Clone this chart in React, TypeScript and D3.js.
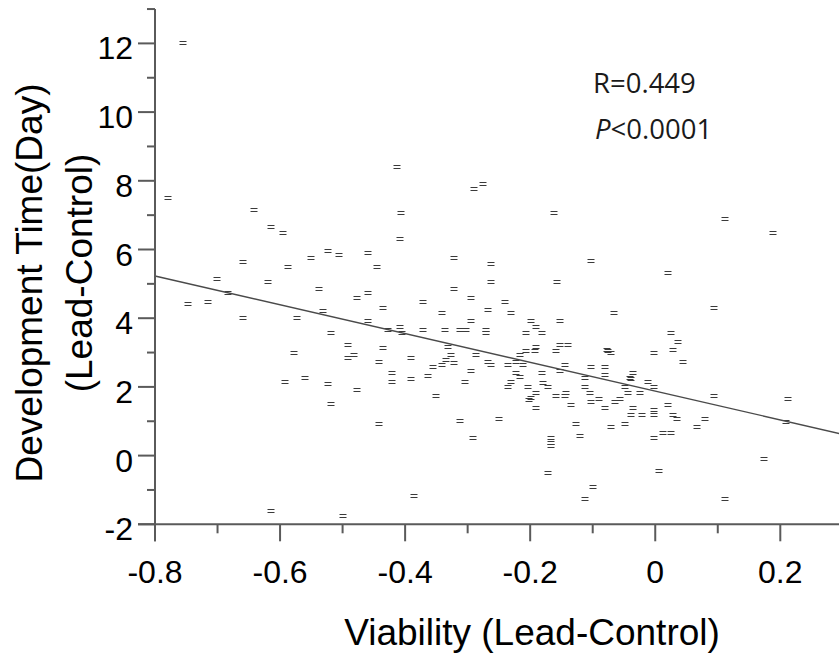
import React from "react";
import * as d3 from "d3";

// Viability (Lead-Control) values
const viability: number[] = [
  -0.756, -0.413, -0.779, -0.642, -0.615, -0.596, -0.523, -0.505, -0.46, -0.551,
  -0.66, -0.587, -0.445, -0.701, -0.619, -0.683, -0.537, -0.46, -0.477, -0.747,
  -0.716, -0.532, -0.436, -0.66, -0.573, -0.46, -0.519, -0.427, -0.408, -0.492,
  -0.436, -0.577, -0.491, -0.482, -0.442, -0.421, -0.56, -0.407, -0.408, -0.592,
  -0.523, -0.519, -0.477, -0.421, -0.442, -0.615, -0.5, -0.29, -0.276, -0.162,
  -0.322, -0.262, -0.102, 0.02, -0.262, -0.157, -0.322, -0.372, -0.295, -0.24,
  -0.341, -0.267, -0.231, -0.066, -0.295, -0.199, -0.152, -0.372, -0.336, -0.313,
  -0.303, -0.27, -0.27, -0.191, -0.207, -0.181, 0.025, -0.405, 0.037, -0.331,
  -0.327, -0.335, -0.322, -0.286, -0.391, -0.355, -0.341, -0.267, -0.263, -0.236,
  -0.216, -0.207, -0.193, -0.191, -0.222, -0.212, -0.158, -0.153, -0.139, -0.144,
  -0.153, -0.181, -0.391, -0.363, -0.295, -0.304, -0.351, -0.222, -0.217, -0.231,
  -0.236, -0.203, -0.179, -0.172, -0.191, -0.202, -0.199, -0.191, -0.158, -0.142,
  -0.144, -0.135, -0.112, -0.112, -0.105, -0.103, -0.08, -0.08, -0.075, -0.071,
  -0.102, -0.09, -0.08, -0.064, -0.057, -0.035, -0.039, -0.048, -0.043, -0.025,
  -0.035, -0.011, -0.002, -0.002, 0.029, 0.02, -0.039, -0.021, -0.002, -0.002,
  0.029, 0.034, -0.048, -0.071, -0.126, -0.121, 0.013, 0.025, -0.002, -0.167,
  -0.167, -0.167, -0.291, -0.313, -0.25, -0.171, 0.006, -0.099, -0.112, -0.386,
  0.112, 0.189, 0.094, -0.077, 0.044, -0.04, 0.094, 0.212, 0.209, 0.08,
  0.066, 0.174, 0.112,
];

// Development Time (Lead-Control) values, in days
const devTime: number[] = [
  12.0, 8.41, 7.5, 7.15, 6.66, 6.49, 5.96, 5.83, 5.9, 5.74,
  5.65, 5.48, 5.48, 5.14, 5.06, 4.74, 4.84, 4.74, 4.58, 4.4,
  4.48, 4.22, 4.31, 4.0, 4.0, 3.91, 3.57, 3.65, 3.75, 3.22,
  3.14, 3.0, 2.83, 2.93, 2.73, 2.41, 2.25, 7.07, 6.31, 2.15,
  2.08, 1.49, 1.91, 2.15, 0.91, -1.61, -1.76, 7.75, 7.9, 7.07,
  5.74, 5.57, 5.66, 5.32, 5.06, 5.06, 4.84, 4.48, 4.58, 4.48,
  4.14, 4.24, 4.14, 4.14, 3.92, 3.92, 3.92, 3.65, 3.65, 3.65,
  3.65, 3.65, 3.56, 3.75, 3.58, 3.58, 3.58, 3.57, 3.31, 3.15,
  2.93, 2.78, 2.7, 2.93, 2.83, 2.59, 2.65, 2.73, 2.63, 2.65,
  2.93, 3.05, 3.05, 3.15, 2.73, 2.63, 3.05, 3.22, 3.22, 2.65,
  2.47, 2.41, 2.22, 2.31, 2.47, 2.15, 1.73, 2.41, 2.29, 2.15,
  2.0, 2.0, 2.1, 2.0, 1.83, 1.62, 1.67, 1.39, 1.73, 1.81,
  1.73, 1.47, 2.25, 2.0, 1.83, 2.57, 2.57, 2.34, 3.05, 2.98,
  1.57, 1.64, 1.39, 1.57, 1.64, 2.41, 2.22, 2.0, 1.83, 1.83,
  1.39, 2.15, 2.0, 2.99, 3.07, 1.47, 1.18, 1.18, 1.32, 1.18,
  1.18, 1.08, 0.92, 0.84, 0.92, 0.57, 0.65, 0.65, 0.5, 0.5,
  0.38, 0.28, 0.5, 1.0, 1.08, -0.52, -0.44, -0.91, -1.27, -1.18,
  6.89, 6.49, 4.31, 3.07, 2.73, 2.27, 1.73, 1.64, 0.98, 1.08,
  0.84, -0.1, -1.27,
];

// regression line end points
const fitX: number[] = [-0.8, 0.3];
const fitY: number[] = [5.23, 0.62];

const xMajorTicks: number[] = [-0.8, -0.6, -0.4, -0.2, 0, 0.2];
const xTickLabels: string[] = ["-0.8", "-0.6", "-0.4", "-0.2", "0", "0.2"];
const xMinorTicks: number[] = [-0.7, -0.5, -0.3, -0.1, 0.1, 0.3];
const yMajorTicks: number[] = [-2, 0, 2, 4, 6, 8, 10, 12];
const yTickLabels: string[] = ["-2", "0", "2", "4", "6", "8", "10", "12"];
const yMinorTicks: number[] = [-1, 1, 3, 5, 7, 9, 11, 13];

const xTitle = "Viability (Lead-Control)";
const yTitle1 = "Development Time(Day)";
const yTitle2 = "(Lead-Control)";
const statR = "R=0.449";

export default function App() {
  const W = 839;
  const H = 660;
  const x0 = 155;
  const pxPerX = 625.3;
  const y0 = 524.3;
  const pxPerY = 34.35;
  const x = d3.scaleLinear().domain([-0.8, 0.3]).range([x0, x0 + 1.1 * pxPerX]);
  const y = d3.scaleLinear().domain([-2, 13]).range([y0, y0 - 15 * pxPerY]);
  const axisColor = "#5a5a5a";
  const tickFont = "'Liberation Sans', Arial, sans-serif";

  const fitData = fitX.map((v, i) => [v, fitY[i]] as [number, number]);
  const lineGen = d3
    .line<[number, number]>()
    .x((d) => x(d[0]))
    .y((d) => y(d[1]));

  return (
    <div style={{ position: "absolute", left: 0, top: 0 }}>
      <svg width={W} height={H} style={{ display: "block", background: "#fff" }}>
        {/* points as "=" markers */}
        <g stroke="#3a3a3a" strokeWidth={1}>
          {viability.map((v, i) => {
            const cx = Math.round(x(v));
            const cy = Math.round(y(devTime[i]));
            return (
              <g key={i}>
                <line x1={cx - 3.5} x2={cx + 3.5} y1={cy - 1.5} y2={cy - 1.5} />
                <line x1={cx - 3.5} x2={cx + 3.5} y1={cy + 1.5} y2={cy + 1.5} />
              </g>
            );
          })}
        </g>

        {/* regression line */}
        <path d={lineGen(fitData) || ""} fill="none" stroke="#4a4a4a" strokeWidth={1.4} />

        {/* axes */}
        <g stroke={axisColor} strokeWidth={2}>
          <line x1={x0} x2={x0} y1={y(13)} y2={y0 + 17} />
          <line x1={x0 - 17} x2={W + 5} y1={y0} y2={y0} />
          {yMajorTicks.map((t) => (
            <line key={"ym" + t} x1={x0 - 17} x2={x0} y1={y(t)} y2={y(t)} />
          ))}
          {yMinorTicks.map((t) => (
            <line key={"yn" + t} x1={x0 - 8} x2={x0} y1={y(t)} y2={y(t)} />
          ))}
          {xMajorTicks.map((t) => (
            <line key={"xm" + t} x1={x(t)} x2={x(t)} y1={y0} y2={y0 + 17} />
          ))}
          {xMinorTicks.map((t) => (
            <line key={"xn" + t} x1={x(t)} x2={x(t)} y1={y0} y2={y0 + 9} />
          ))}
        </g>

        {/* tick labels */}
        <g fontFamily={tickFont} fontSize={32} fill="#000">
          {yMajorTicks.map((t, i) => (
            <text key={"yl" + t} x={133} y={y(t) + 16} textAnchor="end">
              {yTickLabels[i]}
            </text>
          ))}
          {xMajorTicks.map((t, i) => (
            <text key={"xl" + t} x={x(t)} y={583} textAnchor="middle">
              {xTickLabels[i]}
            </text>
          ))}
        </g>

        {/* axis titles */}
        <text x={532} y={645} textAnchor="middle" fontFamily={tickFont} fontSize={37} fill="#000">
          {xTitle}
        </text>
        <text
          transform="translate(42,283) rotate(-90)"
          textAnchor="middle"
          fontFamily={tickFont}
          fontSize={37}
          fill="#000"
        >
          {yTitle1}
        </text>
        <text
          transform="translate(92,273) rotate(-90)"
          textAnchor="middle"
          fontFamily={tickFont}
          fontSize={37}
          fill="#000"
        >
          {yTitle2}
        </text>

        {/* statistics */}
        <g fontFamily="'Open Sans', 'Noto Sans', sans-serif" fontSize={27.5} fill="#1a1a1a">
          <text x={593} y={93}>{statR}</text>
          <text x={595} y={139}>
            <tspan fontStyle="italic">P</tspan>
            <tspan>{"<0.0001"}</tspan>
          </text>
        </g>
      </svg>
    </div>
  );
}
